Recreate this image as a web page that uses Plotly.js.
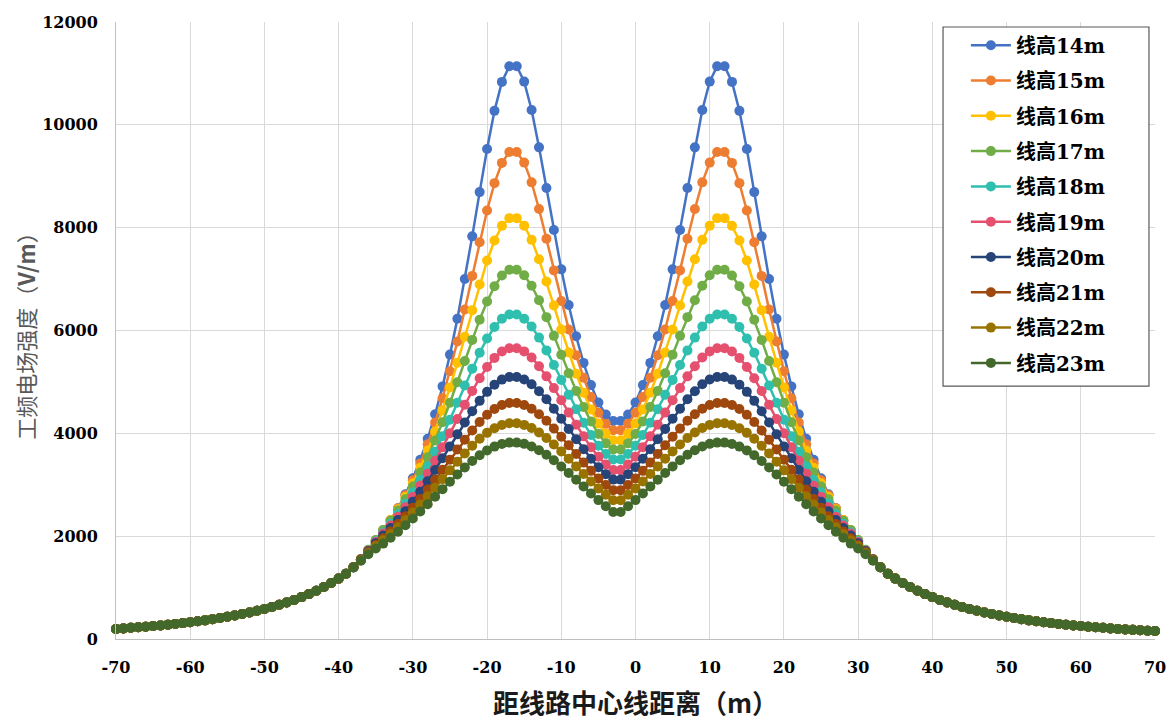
<!DOCTYPE html>
<html>
<head>
<meta charset="utf-8">
<script src="https://cdn.plot.ly/plotly-3.0.1.min.js"></script>
<style>html,body{margin:0;padding:0;background:#fff;}#chart{width:1171px;height:720px;}</style>
</head>
<body>
<div id="chart"></div>
<script>
// distance from line centre (m)
const distance = [-70,-69,-68,-67,-66,-65,-64,-63,-62,-61,-60,-59,-58,-57,-56,-55,-54,-53,-52,-51,-50,-49,-48,-47,-46,-45,-44,-43,-42,-41,-40,-39,-38,-37,-36,-35,-34,-33,-32,-31,-30,-29,-28,-27,-26,-25,-24,-23,-22,-21,-20,-19,-18,-17,-16,-15,-14,-13,-12,-11,-10,-9,-8,-7,-6,-5,-4,-3,-2,-1,0,1,2,3,4,5,6,7,8,9,10,11,12,13,14,15,16,17,18,19,20,21,22,23,24,25,26,27,28,29,30,31,32,33,34,35,36,37,38,39,40,41,42,43,44,45,46,47,48,49,50,51,52,53,54,55,56,57,58,59,60,61,62,63,64,65,66,67,68,69,70];

const xTickVals = [-70,-60,-50,-40,-30,-20,-10,0,10,20,30,40,50,60,70];
const xTickText = ['-70','-60','-50','-40','-30','-20','-10','0','10','20','30','40','50','60','70'];

const seriesNames = ['线高14m','线高15m','线高16m','线高17m','线高18m','线高19m','线高20m','线高21m','线高22m','线高23m'];

const h14 = [195,206,218,228,239,252,264,279,294,309,325,345,363,386,408,434,459,487,517,550,585,624,666,711,760,815,873,937,1010,1088,1175,1271,
1392,1537,1705,1892,2098,2306,2543,2815,3126,3484,3896,4370,4913,5531,6228,7000,7831,8692,9529,10272,10835,11140,
11140,10841,10289,9562,8770,7954,7189,6495,5887,5370,4938,4598,4364,4240,
4240,4364,4598,4938,5370,5887,6495,7189,7954,8770,9562,10289,10841,11140,
11140,10835,10272,9529,8692,7831,7000,6228,5531,4913,4370,3896,3484,3126,2815,2543,2306,2098,1892,1705,1537,1392,
1271,1175,1088,1010,937,873,815,760,711,666,624,585,550,517,487,459,434,408,386,363,345,325,309,294,279,264,252,239,228,218,206,195,186,178,170,162,155];

const h15 = [195,206,218,228,239,252,264,279,294,309,325,345,363,386,408,434,459,487,517,550,585,624,666,711,760,815,873,937,1010,1088,1175,1271,
1396,1546,1720,1910,2115,2315,2541,2797,3087,3415,3788,4209,4682,5209,5787,6410,7062,7716,8334,8866,9260,9470,
9470,9265,8881,8363,7784,7169,6575,6021,5520,5081,4705,4401,4184,4060,
4060,4184,4401,4705,5081,5520,6021,6575,7169,7784,8363,8881,9265,9470,
9470,9260,8866,8334,7716,7062,6410,5787,5209,4682,4209,3788,3415,3087,2797,2541,2315,2115,1910,1720,1546,1396,
1271,1175,1088,1010,937,873,815,760,711,666,624,585,550,517,487,459,434,408,386,363,345,325,309,294,279,264,252,239,228,218,206,195,186,178,170,162,155];

const h16 = [195,206,218,228,239,252,264,279,294,309,325,345,363,386,408,434,459,487,517,550,585,624,666,711,760,815,873,937,1010,1088,1175,1271,
1398,1553,1729,1921,2121,2311,2524,2763,3030,3330,3664,4036,4446,4893,5373,5878,6393,6896,7360,7750,8035,8185,
8185,8039,7763,7385,6954,6485,6020,5573,5160,4788,4462,4190,3990,3865,
3865,3990,4190,4462,4788,5160,5573,6020,6485,6954,7385,7763,8039,8185,
8185,8035,7750,7360,6896,6393,5878,5373,4893,4446,4036,3664,3330,3030,2763,2524,2311,2121,1921,1729,1553,1398,
1271,1175,1088,1010,937,873,815,760,711,666,624,585,550,517,487,459,434,408,386,363,345,325,309,294,279,264,252,239,228,218,206,195,186,178,170,162,155];

const h17 = [195,206,218,228,239,252,264,279,294,309,325,345,363,386,408,434,459,487,517,550,585,624,666,711,760,815,873,937,1010,1088,1175,1271,
1400,1557,1735,1924,2118,2298,2497,2719,2965,3236,3535,3862,4216,4595,4995,5406,5817,6210,6565,6859,7070,7180,
7180,7074,6870,6587,6260,5896,5528,5168,4825,4511,4229,3989,3805,3685,
3685,3805,3989,4229,4511,4825,5168,5528,5896,6260,6587,6870,7074,7180,
7180,7070,6859,6565,6210,5817,5406,4995,4595,4216,3862,3535,3236,2965,2719,2497,2298,2118,1924,1735,1557,1400,
1271,1175,1088,1010,937,873,815,760,711,666,624,585,550,517,487,459,434,408,386,363,345,325,309,294,279,264,252,239,228,218,206,195,186,178,170,162,155];

const h18 = [195,206,218,228,239,252,264,279,294,309,325,345,363,386,408,434,459,487,517,550,585,624,666,711,760,815,873,937,1010,1088,1175,1271,
1399,1552,1722,1899,2076,2243,2427,2629,2851,3093,3356,3640,3944,4264,4595,4930,5258,5568,5843,6067,6227,6310,
6310,6230,6077,5862,5613,5328,5039,4748,4468,4206,3966,3759,3598,3490,
3490,3598,3759,3966,4206,4468,4748,5039,5328,5613,5862,6077,6230,6310,
6310,6227,6067,5843,5568,5258,4930,4595,4264,3944,3640,3356,3093,2851,2629,2427,2243,2076,1899,1722,1552,1399,
1271,1175,1088,1010,937,873,815,760,711,666,624,585,550,517,487,459,434,408,386,363,345,325,309,294,279,264,252,239,228,218,206,195,186,178,170,162,155];

const h19 = [195,206,218,228,239,252,264,279,294,309,325,345,363,386,408,434,459,487,517,550,585,624,666,711,760,815,873,937,1010,1088,1175,1271,
1399,1551,1717,1886,2050,2206,2377,2562,2764,2982,3216,3465,3727,4000,4278,4555,4823,5072,5290,5467,5591,5655,
5655,5594,5475,5306,5108,4880,4644,4403,4167,3941,3731,3544,3394,3285,
3285,3394,3544,3731,3941,4167,4403,4644,4880,5108,5306,5475,5594,5655,
5655,5591,5467,5290,5072,4823,4555,4278,4000,3727,3465,3216,2982,2764,2562,2377,2206,2050,1886,1717,1551,1399,
1271,1175,1088,1010,937,873,815,760,711,666,624,585,550,517,487,459,434,408,386,363,345,325,309,294,279,264,252,239,228,218,206,195,186,178,170,162,155];

const h20 = [195,206,218,228,239,252,264,279,294,309,325,345,363,386,408,434,459,487,517,550,585,624,666,711,760,815,873,937,1010,1088,1175,1271,
1398,1547,1706,1864,2014,2159,2316,2485,2668,2862,3069,3287,3514,3746,3980,4211,4430,4632,4807,4947,5045,5095,
5095,5047,4953,4820,4662,4478,4284,4084,3884,3691,3507,3341,3203,3100,
3100,3203,3341,3507,3691,3884,4084,4284,4478,4662,4820,4953,5047,5095,
5095,5045,4947,4807,4632,4430,4211,3980,3746,3514,3287,3069,2862,2668,2485,2316,2159,2014,1864,1706,1547,1398,
1271,1175,1088,1010,937,873,815,760,711,666,624,585,550,517,487,459,434,408,386,363,345,325,309,294,279,264,252,239,228,218,206,195,186,178,170,162,155];

const h21 = [195,206,218,228,239,252,264,279,294,309,325,345,363,386,408,434,459,487,517,550,585,624,666,711,760,815,873,937,1010,1088,1175,1271,
1396,1539,1687,1829,1960,2093,2236,2389,2553,2725,2907,3096,3291,3488,3685,3876,4056,4220,4361,4472,4550,4590,
4590,4552,4477,4371,4244,4094,3934,3767,3597,3431,3270,3122,2995,2895,
2895,2995,3122,3270,3431,3597,3767,3934,4094,4244,4371,4477,4552,4590,
4590,4550,4472,4361,4220,4056,3876,3685,3488,3291,3096,2907,2725,2553,2389,2236,2093,1960,1829,1687,1539,1396,
1271,1175,1088,1010,937,873,815,760,711,666,624,585,550,517,487,459,434,408,386,363,345,325,309,294,279,264,252,239,228,218,206,195,186,178,170,162,155];

const h22 = [195,206,218,228,239,252,264,279,294,309,325,345,363,386,408,434,459,487,517,550,585,624,666,711,760,815,873,937,1010,1088,1175,1271,
1394,1533,1673,1803,1919,2042,2173,2313,2460,2614,2775,2941,3110,3280,3447,3608,3758,3893,4009,4100,4163,4195,
4195,4164,4104,4016,3910,3784,3649,3505,3357,3208,3063,2926,2804,2700,
2700,2804,2926,3063,3208,3357,3505,3649,3784,3910,4016,4104,4164,4195,
4195,4163,4100,4009,3893,3758,3608,3447,3280,3110,2941,2775,2614,2460,2313,2173,2042,1919,1803,1673,1533,1394,
1271,1175,1088,1010,937,873,815,760,711,666,624,585,550,517,487,459,434,408,386,363,345,325,309,294,279,264,252,239,228,218,206,195,186,178,170,162,155];

const h23 = [195,206,218,228,239,252,264,279,294,309,325,345,363,386,408,434,459,487,517,550,585,624,666,711,760,815,873,937,1010,1088,1175,1271,
1391,1521,1648,1760,1855,1968,2087,2212,2344,2481,2622,2767,2913,3058,3200,3335,3461,3573,3668,3742,3794,3820,
3820,3795,3744,3672,3582,3475,3356,3230,3098,2965,2831,2701,2581,2470,
2470,2581,2701,2831,2965,3098,3230,3356,3475,3582,3672,3744,3795,3820,
3820,3794,3742,3668,3573,3461,3335,3200,3058,2913,2767,2622,2481,2344,2212,2087,1968,1855,1760,1648,1521,1391,
1271,1175,1088,1010,937,873,815,760,711,666,624,585,550,517,487,459,434,408,386,363,345,325,309,294,279,264,252,239,228,218,206,195,186,178,170,162,155];

const seriesValues = [h14,h15,h16,h17,h18,h19,h20,h21,h22,h23];
const seriesColors = ['#4472C4','#ED7D31','#FFC000','#70AD47','#2FBFAE','#E5506F','#264478','#9E480E','#997300','#43682B'];

const traces = seriesValues.map((vals, i) => ({
  type: 'scatter',
  mode: 'lines+markers',
  x: distance,
  y: vals,
  name: seriesNames[i],
  legendgroup: 'g' + i,
  line: {color: seriesColors[i], width: 2.5},
  marker: {color: seriesColors[i], size: 10, symbol: 'circle'},
  cliponaxis: false
}));

const tickFont = {family: 'DejaVu Serif, Liberation Serif, serif', size: 16, color: '#000000', weight: 'bold'};

const layout = {
  width: 1171,
  height: 720,
  margin: {l: 116, r: 16, t: 22, b: 81},
  paper_bgcolor: '#ffffff',
  plot_bgcolor: '#ffffff',
  showlegend: true,
  legend: {
    x: 0.818, y: 0.994, xanchor: 'left', yanchor: 'top',
    bgcolor: 'rgba(0,0,0,0)', borderwidth: 0,
    font: {family: 'DejaVu Serif, Noto Sans CJK SC, serif', size: 20, color: '#000000', weight: 'bold'},
    tracegroupgap: 6.3,
    itemwidth: 40
  },
  shapes: [{
    type: 'rect', xref: 'paper', yref: 'paper',
    x0: 0.796, x1: 0.9942, y0: 0.410, y1: 0.9919,
    line: {color: '#595959', width: 1.2},
    fillcolor: '#ffffff', layer: 'above'
  }],
  xaxis: {
    range: [-70, 70],
    tickmode: 'array', tickvals: xTickVals, ticktext: xTickText,
    showgrid: true, gridcolor: '#d9d9d9', gridwidth: 1,
    zeroline: false,
    showline: true, linecolor: '#bfbfbf', linewidth: 1,
    ticks: '',
    ticklabelstandoff: 14,
    tickfont: tickFont,
    title: {text: '距线路中心线距离（m）', standoff: 18,
      font: {family: 'Noto Sans CJK SC, DejaVu Serif, sans-serif', size: 26, color: '#1a1a1a', weight: 'bold'}}
  },
  yaxis: {
    range: [0, 12000],
    tickmode: 'linear', tick0: 0, dtick: 2000,
    tickformat: 'd',
    showgrid: true, gridcolor: '#d9d9d9', gridwidth: 1,
    zeroline: false,
    showline: true, linecolor: '#bfbfbf', linewidth: 1,
    ticks: '',
    ticklabelstandoff: 14,
    tickfont: tickFont,
    title: {text: '工频电场强度（<b>V/m</b>）', standoff: 0,
      font: {family: 'Noto Sans CJK SC, DejaVu Serif, sans-serif', size: 22, color: '#595959'}}
  }
};

Plotly.newPlot('chart', traces, layout, {displayModeBar: false, staticPlot: true});
</script>
</body>
</html>
